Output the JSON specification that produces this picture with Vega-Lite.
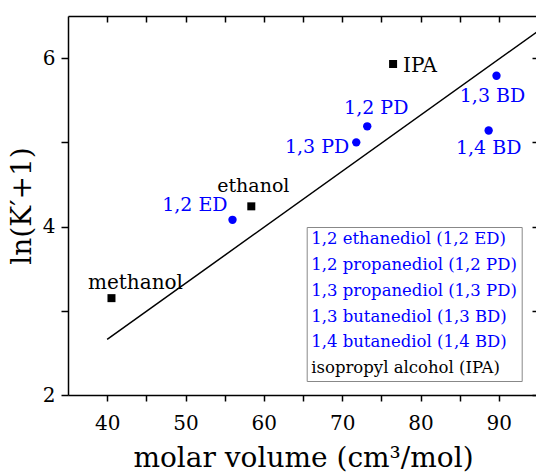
{
  "$schema": "https://vega.github.io/schema/vega-lite/v6.json",
  "width": 470,
  "height": 379,
  "autosize": {"type": "none"},
  "padding": {"left": 68, "top": 16, "right": 0, "bottom": 80},
  "background": "white",
  "config": {"view": {"stroke": null}, "font": "DejaVu Serif"},
  "datasets": {
    "points": [
      {"name": "methanol", "volume": 40.55, "lnK": 3.15, "kind": "alcohol", "full": null},
      {"name": "ethanol", "volume": 58.4, "lnK": 4.24, "kind": "alcohol", "full": null},
      {"name": "IPA", "volume": 76.5, "lnK": 5.93, "kind": "alcohol", "full": "isopropyl alcohol (IPA)"},
      {"name": "1,2 ED", "volume": 56.0, "lnK": 4.08, "kind": "diol", "full": "1,2 ethanediol (1,2 ED)"},
      {"name": "1,2 PD", "volume": 73.2, "lnK": 5.19, "kind": "diol", "full": "1,2 propanediol (1,2 PD)"},
      {"name": "1,3 PD", "volume": 71.8, "lnK": 5.0, "kind": "diol", "full": "1,3 propanediol (1,3 PD)"},
      {"name": "1,3 BD", "volume": 89.7, "lnK": 5.79, "kind": "diol", "full": "1,3 butanediol (1,3 BD)"},
      {"name": "1,4 BD", "volume": 88.7, "lnK": 5.14, "kind": "diol", "full": "1,4 butanediol (1,4 BD)"}
    ],
    "fit": [
      {"volume": 40, "lnK": 2.66},
      {"volume": 95, "lnK": 6.32}
    ]
  },
  "resolve": {"axis": {"x": "independent", "y": "independent"}},
  "layer": [
    {
      "data": {"name": "fit"},
      "mark": {"type": "line", "color": "black", "strokeWidth": 1.5, "clip": true},
      "encoding": {
        "x": {"field": "volume", "type": "quantitative", "scale": {"domain": [35, 95], "nice": false, "zero": false},
          "axis": {"orient": "bottom", "values": [40, 45, 50, 55, 60, 65, 70, 75, 80, 85, 90],
            "labelExpr": "datum.value % 10 === 0 ? datum.label : ''",
            "grid": false, "tickSize": 6, "tickWidth": 1.5, "tickColor": "black", "domainColor": "black", "domainWidth": 1.5,
            "labelFontSize": 20, "labelColor": "black", "labelPadding": 12, "labelFont": "DejaVu Serif",
            "title": "molar volume (cm³/mol)", "titleFontSize": 28, "titleFontWeight": "normal", "titleColor": "black",
            "titleFont": "DejaVu Serif", "titlePadding": 11}},
        "y": {"field": "lnK", "type": "quantitative", "scale": {"domain": [2, 6.5], "nice": false, "zero": false},
          "axis": {"orient": "left", "values": [2, 3, 4, 5, 6],
            "labelExpr": "datum.value % 2 === 0 ? datum.label : ''",
            "grid": false, "tickSize": 7, "tickWidth": 1.5, "tickColor": "black", "domainColor": "black", "domainWidth": 1.5,
            "labelFontSize": 20, "labelColor": "black", "labelPadding": 6, "labelFont": "DejaVu Serif",
            "title": "ln(K′+1)", "titleFontSize": 28, "titleFontWeight": "normal", "titleColor": "black",
            "titleFont": "DejaVu Serif", "titlePadding": 6}}
      }
    },
    {
      "data": {"name": "points"},
      "transform": [{"filter": "datum.kind === 'alcohol'"}],
      "mark": {"type": "square", "filled": true, "color": "black", "size": 64, "opacity": 1},
      "encoding": {
        "x": {"field": "volume", "type": "quantitative", "scale": {"domain": [35, 95], "nice": false, "zero": false},
          "axis": {"orient": "top", "values": [40, 45, 50, 55, 60, 65, 70, 75, 80, 85, 90], "labels": false,
            "grid": false, "tickSize": -6, "tickWidth": 1.5, "tickColor": "black", "domainColor": "black", "domainWidth": 1.5, "title": null}},
        "y": {"field": "lnK", "type": "quantitative", "scale": {"domain": [2, 6.5], "nice": false, "zero": false},
          "axis": {"orient": "right", "values": [2, 3, 4, 5, 6], "labels": false,
            "grid": false, "tickSize": -6, "tickWidth": 1.5, "tickColor": "black", "domainColor": "black", "domainWidth": 1.5, "title": null}}
      }
    },
    {
      "data": {"name": "points"},
      "transform": [{"filter": "datum.kind === 'diol'"}],
      "mark": {"type": "circle", "color": "#0000ff", "size": 70, "opacity": 1},
      "encoding": {
        "x": {"field": "volume", "type": "quantitative", "axis": null},
        "y": {"field": "lnK", "type": "quantitative", "axis": null}
      }
    },
    {
      "data": {"name": "points"},
      "transform": [{"filter": "datum.full != null"}],
      "mark": {"type": "point", "opacity": 0},
      "encoding": {
        "x": {"field": "volume", "type": "quantitative", "axis": null},
        "y": {"field": "lnK", "type": "quantitative", "axis": null},
        "color": {"field": "full", "type": "nominal",
          "scale": {"domain": ["1,2 ethanediol (1,2 ED)", "1,2 propanediol (1,2 PD)", "1,3 propanediol (1,3 PD)", "1,3 butanediol (1,3 BD)", "1,4 butanediol (1,4 BD)", "isopropyl alcohol (IPA)"],
            "range": ["#0000ff", "#0000ff", "#0000ff", "#0000ff", "#0000ff", "black"]},
          "legend": {"title": null, "orient": "none", "legendX": 238.7, "legendY": 211,
            "symbolSize": 0, "symbolOpacity": 0, "symbolStrokeWidth": 0, "labelOffset": -16,
            "labelFont": "DejaVu Serif", "labelFontSize": 16.5, "labelLimit": 400, "rowPadding": 8.8,
            "padding": 4, "strokeColor": "#888888", "fillColor": "white",
            "labelColor": {"expr": "datum.value === 'isopropyl alcohol (IPA)' ? 'black' : '#0000ff'"}}}
      }
    },
    {
      "data": {"name": "points"},
      "transform": [{"filter": "datum.name === 'methanol'"}],
      "mark": {"type": "text", "font": "DejaVu Serif", "fontSize": 20, "color": "black", "align": "center", "baseline": "middle", "dx": 24, "dy": -15},
      "encoding": {"x": {"field": "volume", "type": "quantitative", "axis": null}, "y": {"field": "lnK", "type": "quantitative", "axis": null}, "text": {"field": "name"}}
    },
    {
      "data": {"name": "points"},
      "transform": [{"filter": "datum.name === 'ethanol'"}],
      "mark": {"type": "text", "font": "DejaVu Serif", "fontSize": 19, "color": "black", "align": "center", "baseline": "middle", "dx": 2, "dy": -20},
      "encoding": {"x": {"field": "volume", "type": "quantitative", "axis": null}, "y": {"field": "lnK", "type": "quantitative", "axis": null}, "text": {"field": "name"}}
    },
    {
      "data": {"name": "points"},
      "transform": [{"filter": "datum.name === 'IPA'"}],
      "mark": {"type": "text", "font": "DejaVu Serif", "fontSize": 20, "color": "black", "align": "left", "baseline": "middle", "dx": 10, "dy": 2},
      "encoding": {"x": {"field": "volume", "type": "quantitative", "axis": null}, "y": {"field": "lnK", "type": "quantitative", "axis": null}, "text": {"field": "name"}}
    },
    {
      "data": {"name": "points"},
      "transform": [{"filter": "datum.name === '1,2 ED'"}],
      "mark": {"type": "text", "font": "DejaVu Serif", "fontSize": 19, "color": "#0000ff", "align": "right", "baseline": "middle", "dx": -5, "dy": -15},
      "encoding": {"x": {"field": "volume", "type": "quantitative", "axis": null}, "y": {"field": "lnK", "type": "quantitative", "axis": null}, "text": {"field": "name"}}
    },
    {
      "data": {"name": "points"},
      "transform": [{"filter": "datum.name === '1,2 PD'"}],
      "mark": {"type": "text", "font": "DejaVu Serif", "fontSize": 19, "color": "#0000ff", "align": "center", "baseline": "middle", "dx": 9, "dy": -18},
      "encoding": {"x": {"field": "volume", "type": "quantitative", "axis": null}, "y": {"field": "lnK", "type": "quantitative", "axis": null}, "text": {"field": "name"}}
    },
    {
      "data": {"name": "points"},
      "transform": [{"filter": "datum.name === '1,3 PD'"}],
      "mark": {"type": "text", "font": "DejaVu Serif", "fontSize": 19, "color": "#0000ff", "align": "right", "baseline": "middle", "dx": -7, "dy": 5},
      "encoding": {"x": {"field": "volume", "type": "quantitative", "axis": null}, "y": {"field": "lnK", "type": "quantitative", "axis": null}, "text": {"field": "name"}}
    },
    {
      "data": {"name": "points"},
      "transform": [{"filter": "datum.name === '1,3 BD'"}],
      "mark": {"type": "text", "font": "DejaVu Serif", "fontSize": 19, "color": "#0000ff", "align": "center", "baseline": "middle", "dx": -4, "dy": 20},
      "encoding": {"x": {"field": "volume", "type": "quantitative", "axis": null}, "y": {"field": "lnK", "type": "quantitative", "axis": null}, "text": {"field": "name"}}
    },
    {
      "data": {"name": "points"},
      "transform": [{"filter": "datum.name === '1,4 BD'"}],
      "mark": {"type": "text", "font": "DejaVu Serif", "fontSize": 19, "color": "#0000ff", "align": "center", "baseline": "middle", "dx": 0, "dy": 17},
      "encoding": {"x": {"field": "volume", "type": "quantitative", "axis": null}, "y": {"field": "lnK", "type": "quantitative", "axis": null}, "text": {"field": "name"}}
    }
  ]
}
